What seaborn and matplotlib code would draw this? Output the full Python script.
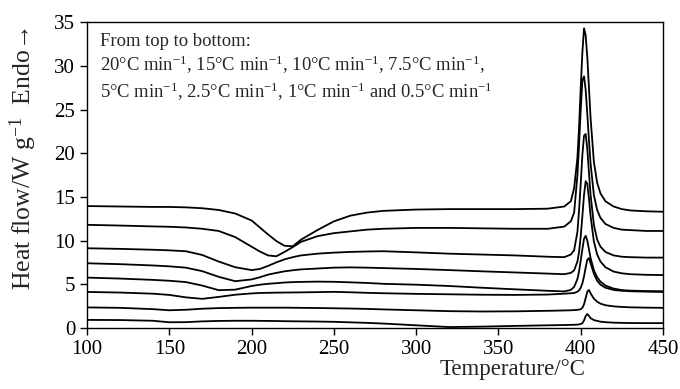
from matplotlib import pyplot as plt
import seaborn as sns
import pandas as pd

# DSC curves, one per heating rate (top to bottom)
temperature = [100, 120, 140, 150, 160, 170, 180, 190, 200, 205, 210, 215, 220, 225, 230,
               240, 250, 260, 270, 280, 300, 320, 340, 360, 380, 390, 394, 396, 398, 399,
               400, 401, 402, 403, 404, 405, 406, 408, 410, 412, 415, 420, 425, 430, 440, 450]

rates = ['20', '15', '10', '7.5', '5', '2.5', '1', '0.5']

hf_20 = [13.95, 13.9, 13.85, 13.85, 13.8, 13.7, 13.5, 13.1, 12.3, 11.5, 10.7, 9.95, 9.4, 9.35, 10.1,
         11.2, 12.2, 12.85, 13.2, 13.4, 13.55, 13.6, 13.6, 13.6, 13.65, 13.9, 14.5, 16.0, 19.5, 23.0,
         27.5, 31.5, 34.3, 33.5, 31.0, 27.5, 24.0, 19.0, 16.6, 15.4, 14.5, 13.9, 13.6, 13.45, 13.35, 13.3]
hf_15 = [11.8, 11.72, 11.62, 11.58, 11.5, 11.35, 11.1, 10.4, 9.3, 8.75, 8.3, 8.2, 8.7, 9.25, 9.85,
         10.5, 10.85, 11.05, 11.25, 11.35, 11.45, 11.45, 11.4, 11.35, 11.35, 11.6, 12.2, 13.2, 17.5, 21.0,
         25.0, 28.3, 28.8, 27.3, 24.5, 21.5, 18.8, 15.2, 13.5, 12.6, 11.9, 11.45, 11.25, 11.2, 11.1, 11.1]
hf_10 = [9.12, 9.05, 8.95, 8.88, 8.78, 8.35, 7.6, 6.95, 6.62, 6.75, 7.1, 7.5, 7.85, 8.1, 8.3,
         8.5, 8.62, 8.7, 8.75, 8.78, 8.65, 8.5, 8.4, 8.3, 8.15, 8.1, 8.4, 8.9, 11.0, 13.5,
         16.5, 19.8, 22.0, 22.2, 20.5, 17.8, 15.2, 11.8, 10.1, 9.3, 8.7, 8.3, 8.15, 8.1, 8.05, 8.05]
hf_7_5 = [7.4, 7.3, 7.15, 7.05, 6.9, 6.5, 5.85, 5.35, 5.55, 5.8, 6.1, 6.3, 6.48, 6.6, 6.7,
          6.8, 6.9, 6.93, 6.9, 6.85, 6.75, 6.62, 6.48, 6.35, 6.22, 6.15, 6.3, 6.6, 7.6, 8.7,
          10.5, 12.8, 15.2, 16.8, 16.5, 14.8, 12.8, 9.9, 8.4, 7.6, 6.95, 6.45, 6.25, 6.15, 6.08, 6.05]
hf_5 = [5.76, 5.65, 5.5, 5.4, 5.25, 4.85, 4.32, 4.38, 4.8, 4.95, 5.05, 5.12, 5.2, 5.24, 5.27,
        5.3, 5.28, 5.22, 5.15, 5.05, 4.95, 4.8, 4.6, 4.42, 4.25, 4.18, 4.35, 4.7, 5.6, 6.5,
        7.7, 9.0, 10.2, 10.55, 10.0, 9.0, 8.0, 6.6, 5.8, 5.3, 4.85, 4.5, 4.33, 4.27, 4.22, 4.2]
hf_2_5 = [4.12, 4.05, 3.92, 3.78, 3.5, 3.33, 3.55, 3.8, 3.95, 4.0, 4.02, 4.04, 4.05, 4.06, 4.07,
          4.1, 4.13, 4.08, 4.02, 3.97, 3.9, 3.85, 3.8, 3.78, 3.82, 3.92, 3.97, 4.0, 4.15, 4.3,
          4.6, 5.1, 5.9, 6.9, 7.8, 8.0, 7.4, 6.2, 5.4, 4.95, 4.6, 4.35, 4.25, 4.2, 4.15, 4.12]
hf_1 = [2.35, 2.3, 2.15, 2.02, 2.08, 2.2, 2.27, 2.3, 2.32, 2.32, 2.32, 2.32, 2.32, 2.31, 2.3,
        2.28, 2.25, 2.22, 2.18, 2.12, 2.02, 1.92, 1.88, 1.9, 1.96, 2.0, 2.02, 2.04, 2.07, 2.1,
        2.15, 2.3, 2.7, 3.4, 4.15, 4.35, 3.95, 3.35, 3.0, 2.78, 2.6, 2.47, 2.4, 2.36, 2.32, 2.3]
hf_0_5 = [0.92, 0.9, 0.82, 0.65, 0.66, 0.75, 0.8, 0.82, 0.82, 0.81, 0.8, 0.79, 0.77, 0.76, 0.75,
          0.73, 0.7, 0.64, 0.58, 0.5, 0.3, 0.1, 0.15, 0.23, 0.3, 0.33, 0.35, 0.36, 0.38, 0.4,
          0.45, 0.55, 0.85, 1.35, 1.6, 1.38, 1.12, 0.9, 0.8, 0.72, 0.66, 0.6, 0.58, 0.56, 0.55, 0.55]

curves = [hf_20, hf_15, hf_10, hf_7_5, hf_5, hf_2_5, hf_1, hf_0_5]

frames = []
for rate, values in zip(rates, curves):
    frames.append(pd.DataFrame({'T': temperature, 'hf': values, 'rate': rate}))
df = pd.concat(frames, ignore_index=True)

sns.set_style('ticks')
plt.rcParams['font.family'] = ['Liberation Serif', 'DejaVu Serif']
plt.rcParams['mathtext.fontset'] = 'custom'
plt.rcParams['mathtext.rm'] = 'Liberation Serif'
plt.rcParams['mathtext.it'] = 'Liberation Serif:italic'

fig = plt.figure(figsize=(6.8, 3.89), dpi=100)
ax = fig.add_axes([0.128, 0.157, 0.847, 0.786])

sns.lineplot(data=df, x='T', y='hf', hue='rate', hue_order=rates,
             palette=['black'] * len(rates), linewidth=1.3, legend=False, ax=ax)

ax.set_xlim(100, 450)
ax.set_ylim(0, 35)
ax.set_xticks(range(100, 451, 50))
ax.set_yticks(range(0, 36, 5))
ax.tick_params(direction='out', length=5, width=1, labelsize=15, colors='black')
for s in ax.spines.values():
    s.set_color('black')
    s.set_linewidth(1)

ax.set_xlabel('Temperature/°C', fontsize=16.5)
ax.xaxis.set_label_coords(0.738, -0.103)
ax.set_ylabel('Heat flow/W g$^{-1}$  Endo→', fontsize=18.5)
ax.yaxis.set_label_coords(-0.084, 0.553)

note = ('From top to bottom:\n'
        '20°C min$^{-1}$, 15°C min$^{-1}$, 10°C min$^{-1}$, 7.5°C min$^{-1}$,\n'
        '5°C min$^{-1}$, 2.5°C min$^{-1}$, 1°C min$^{-1}$ and 0.5°C min$^{-1}$')
ax.text(0.023, 0.965, note, transform=ax.transAxes, ha='left', va='top',
        fontsize=13.4, linespacing=1.25)

plt.savefig('out.png', dpi=100)
